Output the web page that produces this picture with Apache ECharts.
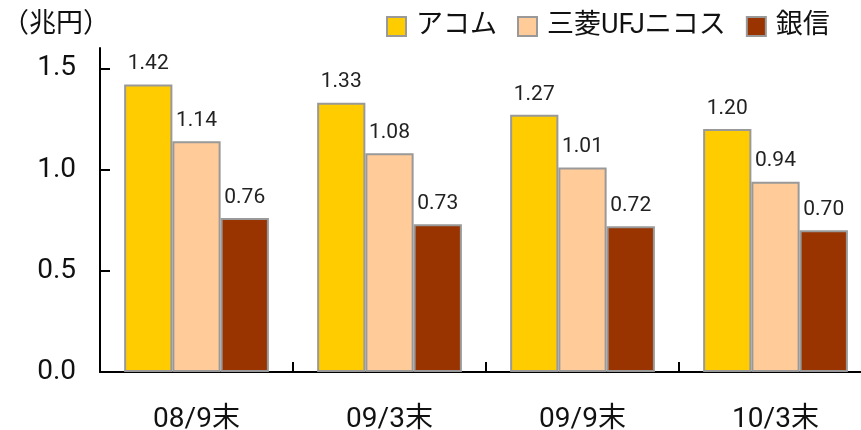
<!DOCTYPE html>
<html><head><meta charset="utf-8">
<script src="https://cdn.jsdelivr.net/npm/echarts@6/dist/echarts.min.js"></script>
<style>html,body{margin:0;padding:0;background:#fff}#c{width:861px;height:430px}</style>
</head><body><div id="c"></div>
<script>
const categories = ['08/9末', '09/3末', '09/9末', '10/3末'];
const seriesNames = ['アコム', '三菱UFJニコス', '銀信'];
const acom = [1.42, 1.33, 1.27, 1.20];
const nicos = [1.14, 1.08, 1.01, 0.94];
const ginshin = [0.76, 0.73, 0.72, 0.70];
const yTicks = [0, 0.5, 1.0, 1.5];
const colors = ['#FFCC00', '#FFCC99', '#993300'];
const FONT = 'Roboto, "Noto Sans CJK JP", sans-serif';

const chart = echarts.init(document.getElementById('c'));
const mk = (name, data, color) => ({
  name, type: 'bar', data,
  barGap: '0%', barCategoryGap: '25%',
  itemStyle: { color, borderColor: '#999999', borderWidth: 2 },
  label: { show: true, position: 'top', distance: 10, color: '#222', fontSize: 21, fontFamily: FONT,
    formatter: p => p.value.toFixed(2) }
});
chart.setOption({
  animation: false,
  textStyle: { fontFamily: FONT },
  grid: { left: 100, width: 772, top: 48, bottom: 58, containLabel: false, outerBoundsMode: 'none' },
  graphic: [{ type: 'text', left: 2, top: 8, style: { text: '（兆円）', fontSize: 27, fontFamily: '"Noto Sans CJK JP", sans-serif', fill: '#111' } }],
  legend: {
    left: 381, top: 8, itemWidth: 19, itemHeight: 19, itemGap: 20, icon: 'rect',
    textStyle: { fontSize: 27, color: '#111', fontFamily: FONT, padding: [0, 0, 0, 5] },
    data: seriesNames
  },
  xAxis: {
    type: 'category', data: categories,
    axisLine: { lineStyle: { color: '#000', width: 2 } },
    axisTick: { show: true, inside: true, length: 10, lineStyle: { color: '#000', width: 2 } },
    axisLabel: { fontSize: 28, color: '#111', margin: 34, fontFamily: FONT }
  },
  yAxis: {
    type: 'value', min: 0, max: 1.6,
    splitLine: { show: false },
    axisLine: { show: true, lineStyle: { color: '#000', width: 2 } },
    axisTick: { show: true, inside: true, length: 10, lineStyle: { color: '#000', width: 2 }, customValues: yTicks },
    axisLabel: { fontSize: 28, color: '#111', margin: 24, fontFamily: FONT, customValues: yTicks,
      formatter: v => v.toFixed(1) }
  },
  series: [mk(seriesNames[0], acom, colors[0]), mk(seriesNames[1], nicos, colors[1]), mk(seriesNames[2], ginshin, colors[2])]
});
</script></body></html>
